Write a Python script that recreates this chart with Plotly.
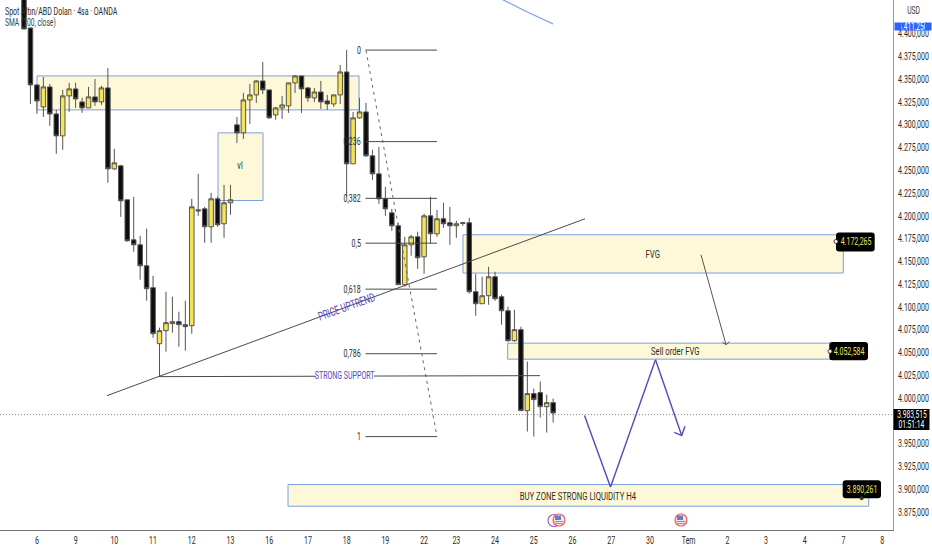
import plotly.graph_objects as go

# ---------- data ----------
bar_index = list(range(83))
open_ = [4470.0,4406.3,4343.8,4319.6,4341.6,4311.9,4287.8,4331.7,4339.4,4325.1,4318.5,4330.6,4325.1,4340.5,4251.6,4254.9,4217.6,4173.7,4168.2,4145.2,4121.1,
         4059.6,4073.9,4081.6,4083.8,4080.5,4079.4,4206.6,4207.7,4188.0,4218.7,4191.3,4214.3,4299.9,4291.1,4327.3,4332.8,4348.1,4338.3,4310.8,4318.5,
         4320.7,4346.0,4353.6,4340.5,4329.5,4336.0,4326.2,4322.9,4332.8,4358.0,4257.1,4307.6,4314.1,4265.9,4246.1,4218.7,4203.3,4189.1,4124.4,4168.2,
         4177.0,4155.0,4200.0,4180.3,4196.8,4192.4,4189.1,4192.4,4192.4,4116.7,4103.5,4112.3,4133.1,4111.2,4095.8,4062.9,4075.0,3986.1,4004.8,4005.9,3990.5,3994.9]
high = [4490.0,4406.3,4343.8,4352.5,4344.9,4316.3,4338.3,4346.0,4346.0,4329.5,4341.6,4350.3,4342.7,4362.4,4273.6,4256.0,4217.6,4220.9,4178.1,4185.8,4134.2,
        4077.2,4116.7,4111.2,4094.7,4106.8,4218.7,4246.1,4209.9,4225.3,4220.9,4234.0,4234.0,4308.6,4335.0,4344.9,4349.2,4369.0,4338.3,4319.6,4331.7,
        4346.0,4354.7,4353.6,4341.6,4340.5,4348.1,4332.8,4332.8,4365.7,4382.2,4314.1,4329.5,4324.0,4272.5,4275.7,4231.9,4207.7,4192.4,4177.0,4179.2,
        4182.5,4202.2,4220.9,4206.6,4214.3,4209.9,4194.6,4193.5,4197.9,4136.4,4133.1,4144.1,4138.6,4113.4,4100.2,4096.9,4078.3,4039.9,4010.3,4018.0,4003.7,3999.3]
low = [4405.2,4322.9,4311.9,4308.6,4298.8,4268.1,4272.5,4314.1,4318.5,4313.0,4318.5,4320.7,4321.8,4236.3,4250.5,4198.9,4171.5,4160.6,4129.8,4106.8,4066.2,
       4023.4,4050.9,4071.7,4056.3,4051.9,4070.6,4200.0,4170.4,4170.4,4188.0,4175.9,4201.1,4280.1,4284.5,4301.0,4324.0,4333.9,4306.5,4305.4,4306.5,
       4313.0,4335.0,4313.0,4325.1,4325.1,4317.4,4316.3,4319.6,4322.9,4220.9,4257.1,4306.5,4264.8,4239.5,4213.2,4200.0,4183.6,4124.4,4122.2,4156.2,
       4141.9,4136.4,4169.3,4177.0,4186.9,4168.2,4175.9,4189.1,4114.5,4090.3,4103.5,4102.4,4106.8,4080.5,4061.8,4061.8,3986.1,3963.1,3957.6,3978.5,3962.0,3973.0]
close = [4405.2,4343.8,4326.2,4341.6,4311.9,4287.8,4331.7,4339.4,4328.4,4318.5,4330.6,4325.1,4340.5,4251.6,4258.2,4216.5,4172.6,4168.2,4145.2,4120.0,4070.6,
         4073.9,4082.7,4083.8,4080.5,4078.3,4209.9,4205.5,4188.0,4218.7,4190.2,4214.3,4217.6,4291.1,4327.3,4332.8,4348.1,4338.3,4307.6,4318.5,4321.8,
         4346.0,4353.6,4339.4,4329.5,4336.0,4325.1,4322.9,4332.8,4358.0,4257.1,4307.6,4314.1,4265.9,4246.1,4218.7,4207.7,4189.1,4124.4,4168.2,4177.0,
         4154.0,4200.0,4180.3,4196.8,4191.3,4189.1,4191.3,4191.8,4116.7,4103.5,4112.3,4133.1,4109.0,4095.8,4062.9,4075.0,3986.1,4004.8,3998.2,3990.5,3994.9,3983.5]

sma_index = [74, 75, 76, 77, 78, 79, 80, 81, 82]
sma_value = [4438.0, 4434.3, 4431.0, 4427.1, 4423.8, 4420.5, 4417.3, 4414.0, 4410.7]

price_ticks = [3875 + 25 * i for i in range(22)]
price_tick_labels = [f"{p//1000}.{p%1000:03d},000" for p in price_ticks]
day_tick_index = [2, 8, 14, 20, 26, 32, 38, 44, 50, 56, 62, 67, 73, 79, 85, 91, 97, 103, 109, 115, 121, 127, 133]
day_tick_labels = ["6","9","10","11","12","13","16","17","18","19","22","23","24","25","26","27","30","Tem","2","3","4","7","8"]

fib_labels = ["0", "0,236", "0,382", "0,5", "0,618", "0,786", "1"]
fib_prices = [4382.0, 4281.5, 4219.2, 4170.0, 4119.5, 4048.6, 3957.6]

# ---------- layout geometry (page pixels -> axis values, for drawings only) ----------
W, H = 932, 550
PLOT_W, PLOT_H = 893, 530.5
X0, DX = 24.0, 6.453
P0, DP = 4437.0, 1.097
X = lambda px: (px - X0) / DX
Y = lambda py: P0 - DP * py
PX = lambda px: px / PLOT_W
PY = lambda py: 1 - py / PLOT_H

FONT = "Roboto, Liberation Sans, Arial"
TXT = "#2b2b2b"
ZONE_FILL = "#fdf9d8"
ZONE_LINE = "#7d9fe0"
PURPLE = "#5a45b8"
YELLOW = "#f7e35a"

fig = go.Figure()
fig.add_trace(go.Candlestick(
    x=bar_index, open=open_, high=high, low=low, close=close,
    increasing=dict(fillcolor=YELLOW, line=dict(color="#55554a", width=1)),
    decreasing=dict(fillcolor="#0d0d0d", line=dict(color="#555555", width=1)),
    whiskerwidth=0, showlegend=False, hoverinfo="skip"))
fig.add_trace(go.Scatter(x=sma_index, y=sma_value, mode="lines",
                         line=dict(color="#7a9be6", width=1.2), showlegend=False, hoverinfo="skip"))

shapes, ann = [], []

def rect(x0, y0, x1, y1, fill=ZONE_FILL, line=ZONE_LINE):
    shapes.append(dict(type="rect", xref="x", yref="y", x0=X(x0), x1=X(x1), y0=Y(y0), y1=Y(y1),
                       fillcolor=fill, line=dict(color=line, width=1), layer="below"))

def seg(x0, y0, x1, y1, color="#444444", width=1, dash=None, layer="above"):
    shapes.append(dict(type="line", xref="x", yref="y", x0=X(x0), x1=X(x1), y0=Y(y0), y1=Y(y1),
                       line=dict(color=color, width=width, dash=dash or "solid"), layer=layer))

def text(px, py, s, size=10.5, color=TXT, xanchor="center", **kw):
    ann.append(dict(xref="paper", yref="paper", x=PX(px), y=PY(py), text=s, showarrow=False,
                    xanchor=xanchor, align=xanchor if xanchor != "center" else "center", yanchor="middle",
                    font=dict(family=FONT, size=size, color=color), borderpad=0, **kw))

def rounded(x0, y0, x1, y1, r=3, fill="#000000"):
    xa, xb, ya, yb = X(x0), X(x1), Y(y0), Y(y1)
    rx, ry = r / DX, r * DP
    path = (f"M {xa+rx},{ya} L {xb-rx},{ya} Q {xb},{ya} {xb},{ya-ry} L {xb},{yb+ry} Q {xb},{yb} {xb-rx},{yb} "
            f"L {xa+rx},{yb} Q {xa},{yb} {xa},{yb+ry} L {xa},{ya-ry} Q {xa},{ya} {xa+rx},{ya} Z")
    shapes.append(dict(type="path", xref="x", yref="y", path=path, fillcolor=fill, line=dict(width=0), layer="above"))

def dot(cx, cy, r=2, fill="#ffffff", line="#333333"):
    shapes.append(dict(type="circle", xref="x", yref="y", x0=X(cx-r), x1=X(cx+r), y0=Y(cy-r), y1=Y(cy+r),
                       fillcolor=fill, line=dict(color=line, width=1), layer="above"))

# zones
rect(37, 76, 359, 110)
rect(218, 133, 263, 200.7)
rect(463, 235, 843.3, 273.3)
rect(507.7, 343.5, 832, 359.5)
rect(288, 485, 868.7, 506.7)

# current price line
seg(0, 415, 893, 415, color="#8a8a8a", width=1, dash="1px,2px", layer="below")

# fib retracement
for lab, p in zip(fib_labels, fib_prices):
    py = (P0 - p) / DP
    shapes.append(dict(type="line", xref="x", yref="y", x0=X(365.5), x1=X(437), y0=p, y1=p,
                       line=dict(color="#4a4a4a", width=1), layer="above"))
    text(361.5, py, lab, xanchor="right", size=10.5)
seg(366, 50.5, 437, 437, color="#666666", width=1, dash="3px,4px")

# trendline and support
seg(107, 396, 585, 219, color="#4a4a4a", width=1)
seg(159, 377, 316, 376.6, color="#4a4a4a", width=1)
seg(374, 376.4, 540, 376, color="#4a4a4a", width=1)
text(345, 376, "STRONG SUPPORT", size=10.5, color=PURPLE)
text(346, 307, "PRICE UPTREND", size=12, color=PURPLE, textangle=-20)

# projected path
seg(584.5, 416, 610.5, 487.5, color=PURPLE, width=1.4)
seg(610.5, 487.5, 655.5, 360, color=PURPLE, width=1.4)
seg(655.5, 360, 681.7, 436, color=PURPLE, width=1.4)
seg(681.7, 436, 674.3, 432.7, color=PURPLE, width=1.4)
seg(681.7, 436, 685, 426.7, color=PURPLE, width=1.4)
# thin arrow
seg(701, 255, 726, 345, color="#555555", width=1)
seg(726, 345, 722.5, 342.5, color="#555555", width=1)
seg(726, 345, 729.5, 342, color="#555555", width=1)

# zone labels
text(240, 166, "vl", size=11)
text(652, 254, "FVG", size=11.5)
text(675, 351, "Sell order FVG", size=11.5)
text(578, 496, "BUY ZONE STRONG LIQUIDITY H4", size=11.5)

# price tags on zones
rounded(836, 232.7, 874.7, 251.7)
rounded(829.3, 342.3, 868, 360.7)
rounded(842.7, 480.7, 881, 498.7)
dot(836, 241.7)
dot(830, 351.7)
dot(861.7, 498.7, r=1.5, fill="#333333")
text(856, 242, "4.172,265", size=10.5, color="#e8e45a")
text(849, 351.5, "4.052,584", size=10.5, color="#e8e45a")
text(862, 489.5, "3.890,261", size=10.5, color="#e8e45a")

# calendar event markers
def flag(cx, cy):
    shapes.append(dict(type="circle", xref="x", yref="y", x0=X(cx-6), x1=X(cx+6), y0=Y(cy-6), y1=Y(cy+6),
                       fillcolor="#fbe4e4", line=dict(color="#e0605f", width=1.2), layer="above"))
    shapes.append(dict(type="rect", xref="x", yref="y", x0=X(cx-4), x1=X(cx+2), y0=Y(cy-4.5), y1=Y(cy),
                       fillcolor="#5b80cc", line=dict(width=0), layer="above"))
    seg(cx-4.5, cy+1.5, cx+4.5, cy+1.5, color="#e87070", width=1)
    seg(cx-3.5, cy+3.5, cx+3.5, cy+3.5, color="#e87070", width=1)
shapes.append(dict(type="circle", xref="x", yref="y", x0=X(548), x1=X(560), y0=Y(515), y1=Y(527),
                   fillcolor="#ffffff", line=dict(color="#b05cc8", width=1.2), layer="above"))
flag(559, 520.5)
flag(681, 520.5)

# legend text
text(4, 12, "Spot Altın/ABD Doları · 4sa · OANDA", size=10.5, xanchor="left")
text(4, 23.5, "SMA (100, close)", size=10, xanchor="left", color="#444444")

# right scale tags
ann.append(dict(xref="paper", yref="paper", x=PX(893.5), y=PY(26.5), text="4.411,250", showarrow=False,
                xanchor="left", yanchor="middle", width=36, height=8, bgcolor="#2962ff", borderpad=0,
                font=dict(family=FONT, size=10, color="#ffffff")))
ann.append(dict(xref="paper", yref="paper", x=PX(894), y=PY(11.5), text="USD", showarrow=False,
                xanchor="left", yanchor="middle", width=37, height=22, bgcolor="#ffffff", borderpad=0,
                font=dict(family=FONT, size=10, color="#333333")))
shapes.append(dict(type="rect", xref="paper", yref="paper", x0=PX(893.5), x1=PX(929.5), y0=PY(430.5), y1=PY(409.5),
                   fillcolor="#000000", line=dict(width=0), layer="above"))
text(911.5, 414.5, "3.983,515", size=10, color="#ffffff")
text(911.5, 425, "01:51:14", size=10, color="#ffffff")

fig.update_layout(
    width=W, height=H, margin=dict(l=0, r=W - PLOT_W, t=0, b=H - PLOT_H),
    paper_bgcolor="#ffffff", plot_bgcolor="#ffffff",
    showlegend=False, shapes=shapes, annotations=ann, boxgap=0.3, boxgroupgap=0, hovermode=False,
    font=dict(family=FONT, size=11, color=TXT),
    xaxis=dict(range=[X(0), X(PLOT_W)], rangeslider=dict(visible=False), showgrid=False, zeroline=False,
               automargin=False,
               tickmode="array", tickvals=day_tick_index, ticktext=day_tick_labels,
               showline=True, linecolor="#777777", linewidth=1, ticks="", ticklabelstandoff=0,
               tickfont=dict(family=FONT, size=10.5, color=TXT)),
    yaxis=dict(range=[Y(PLOT_H), Y(0)], side="right", showgrid=False, zeroline=False,
               automargin=False,
               tickmode="array", tickvals=price_ticks, ticktext=price_tick_labels,
               showline=True, linecolor="#9a9a9a", linewidth=1, ticks="outside", ticklen=2, tickcolor="#ffffff",
               tickfont=dict(family=FONT, size=10.5, color=TXT)),
)

# The reference's lettering is horizontally squeezed: scale each text about its own anchor, and drop the page margin.
SQUEEZE = """
document.body.style.margin='0';
document.documentElement.style.overflow='hidden';
var gd=document.querySelector('.plotly-graph-div');
gd.querySelectorAll('svg text').forEach(function(t){
  var x=parseFloat(t.getAttribute('x'))||0;
  var tr=t.getAttribute('transform')||'';
  t.setAttribute('transform',tr+' translate('+x+',0) scale(0.67,1) translate('+(-x)+',0)');
});
"""
fig.write_html("out.html", config=dict(displayModeBar=False), post_script=SQUEEZE)
